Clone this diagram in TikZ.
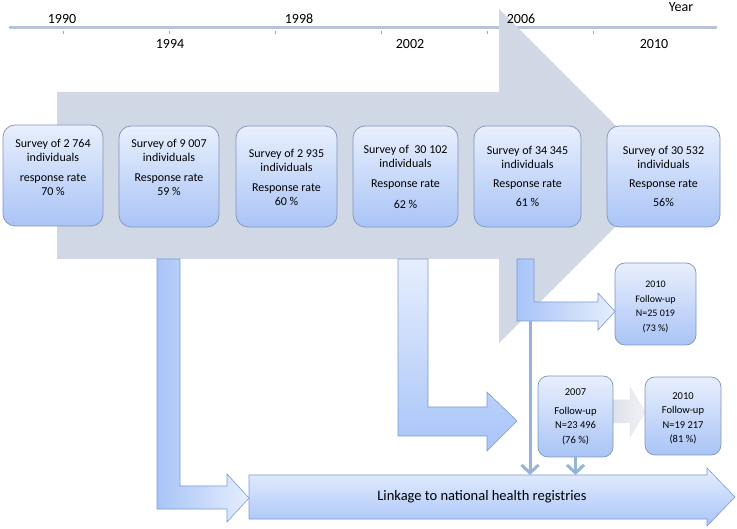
\documentclass[tikz,border=0pt]{standalone}
\usepackage{fontspec}
\setmainfont{Carlito}
\usetikzlibrary{arrows.meta}
\definecolor{bandgray}{HTML}{D0D7E5}
\definecolor{axisline}{HTML}{B8C2D8}
\definecolor{boxtop}{HTML}{E8EFFD}
\definecolor{boxbot}{HTML}{A9C4F6}
\definecolor{boxborder}{HTML}{8294B8}
\definecolor{arrdark}{HTML}{A8C4F8}
\definecolor{arrlight}{HTML}{E6EEFD}
\definecolor{arrborder}{HTML}{7A9BD2}
\definecolor{thinarr}{HTML}{96B3D9}
\definecolor{ghost}{HTML}{D9DDE6}
\definecolor{ghostlight}{HTML}{F1F2F5}
\begin{document}
\begin{tikzpicture}[x=1pt,y=-1pt,
  survey/.style={rounded corners=12pt, draw=boxborder, line width=0.7pt,
    top color=boxtop, bottom color=boxbot, minimum height=101pt, inner sep=0pt},
  follow/.style={rounded corners=10pt, draw=boxborder, line width=0.7pt,
    top color=boxtop, bottom color=boxbot, minimum height=81pt, inner sep=0pt},
  btext/.style={align=center, font=\fontsize{12}{14}\selectfont, inner sep=0pt},
  ftext/.style={align=center, font=\fontsize{10.5}{14.5}\selectfont, inner sep=0pt},
  yr/.style={font=\fontsize{14}{16}\selectfont, inner sep=0pt},
  bentarr/.style={draw=arrborder, line width=0.6pt},
  thinarrow/.style={draw=thinarr, line width=3pt, -{Straight Barb[length=8pt,width=17pt]}},
  tick/.style={draw=gray!70, line width=0.6pt}
]
\useasboundingbox (0,0) rectangle (737,529);

% timeline
\coordinate (axl) at (10,28);
\coordinate (axr) at (716,28);
\draw[axisline, line width=3pt, line cap=round] (axl) -- (axr);
\foreach \tx in {63,169,275,381,487,593}
  \draw[tick] (\tx,31) -- (\tx,34);

% big gray arrow
\fill[bandgray] (57,92) -- (499,92) -- (499,9) -- (666,176) -- (499,343)
  -- (499,259) -- (57,259) -- cycle;

% year labels
\node[yr] (y1990) at (62,19) {1990};
\node[yr] (y1994) at (170,44) {1994};
\node[yr] (y1998) at (299,19) {1998};
\node[yr] (y2002) at (410,44) {2002};
\node[yr] (y2006) at (521,19) {2006};
\node[yr] (y2010) at (654,44) {2010};
\node[yr] (year) at (681,7) {Year};

% bent arrows
\path[bentarr, left color=arrdark, right color=arrlight]
  (157,259) -- (180,259) -- (180,486) -- (227,486) -- (227,474) -- (249,498)
  -- (227,522) -- (227,509) -- (157,509) -- cycle;
\path[bentarr, top color=arrlight, bottom color=arrdark]
  (398,259) -- (428,259) -- (428,407) -- (487,407) -- (487,392) -- (517,421)
  -- (487,451) -- (487,436) -- (398,436) -- cycle;
\path[bentarr, left color=arrdark, right color=arrlight]
  (517,259) -- (534,259) -- (534,302) -- (598,302) -- (598,293) -- (615,311.5)
  -- (598,330) -- (598,321) -- (517,321) -- cycle;

% linkage arrow
\path[bentarr, top color=arrlight, bottom color=arrdark]
  (249,475) -- (707,475) -- (707,468) -- (735,497) -- (707,526) -- (707,519)
  -- (249,519) -- cycle;
\node[font=\fontsize{14.5}{17}\selectfont, inner sep=0pt] (linktext) at (482,497)
  {Linkage to national health registries};
\coordinate (ltop) at (249,475);

% ghost arrow between follow-ups
\path[draw=ghost!80, line width=0.5pt, left color=ghost, right color=ghostlight]
  (605,400) -- (630,400) -- (630,387) -- (645,412) -- (630,437) -- (630,423)
  -- (605,423) -- cycle;

% survey boxes
\node[survey, minimum width=100pt] (b1) at (53,175.5) {};
\node[survey, minimum width=100pt] (b2) at (169,176.5) {};
\node[survey, minimum width=101pt] (b3) at (286.5,176.5) {};
\node[survey, minimum width=105pt] (b4) at (405.5,176.5) {};
\node[survey, minimum width=107pt] (b5) at (527.5,176.5) {};
\node[survey, minimum width=113pt] (b6) at (663.5,176.5) {};

\node[btext] (t1) at (53,167) {Survey of 2 764\\individuals\\[6pt]response rate\\70 \%};
\node[btext] (t2) at (169,167.5) {Survey of 9 007\\individuals\\[6pt]Response rate\\59 \%};
\node[btext] (t3) at (286.5,177) {Survey of 2 935\\individuals\\[6pt]Response rate\\60 \%};
\node[btext] (t4) at (405.5,177) {Survey of\ \ 30 102\\individuals\\[6pt]Response rate\\[7pt]62 \%};
\node[btext] (t5) at (527.5,176.5) {Survey of 34 345\\individuals\\[5pt]Response rate\\[5pt]61 \%};
\node[btext] (t6) at (663.5,176.5) {Survey of 30 532\\individuals\\[5pt]Response rate\\[5pt]56\%};

% follow-up boxes
\node[follow, minimum width=81pt, minimum height=82pt] (fa) at (655.5,304) {};
\node[follow, minimum width=75pt] (fb) at (575.5,416.5) {};
\node[follow, minimum width=76pt, minimum height=78pt] (fc) at (683,416) {};
\node[ftext, font=\fontsize{10}{14.5}\selectfont] (ta) at (655.5,307) {2010\\Follow-up\\N=25 019\\(73 \%)};
\node[ftext] (tb) at (575.5,417) {2007\\[4pt]Follow-up\\N=23 496\\(76 \%)};
\node[ftext] (tc) at (683,418.5) {2010\\Follow-up\\N=19 217\\(81 \%)};

% thin arrows to linkage
\coordinate (c3) at (530,321);
\draw[thinarrow] (c3) -- (c3 |- ltop);
\draw[thinarrow] (fb.south) -- (fb.south |- ltop);
\end{tikzpicture}
\end{document}
